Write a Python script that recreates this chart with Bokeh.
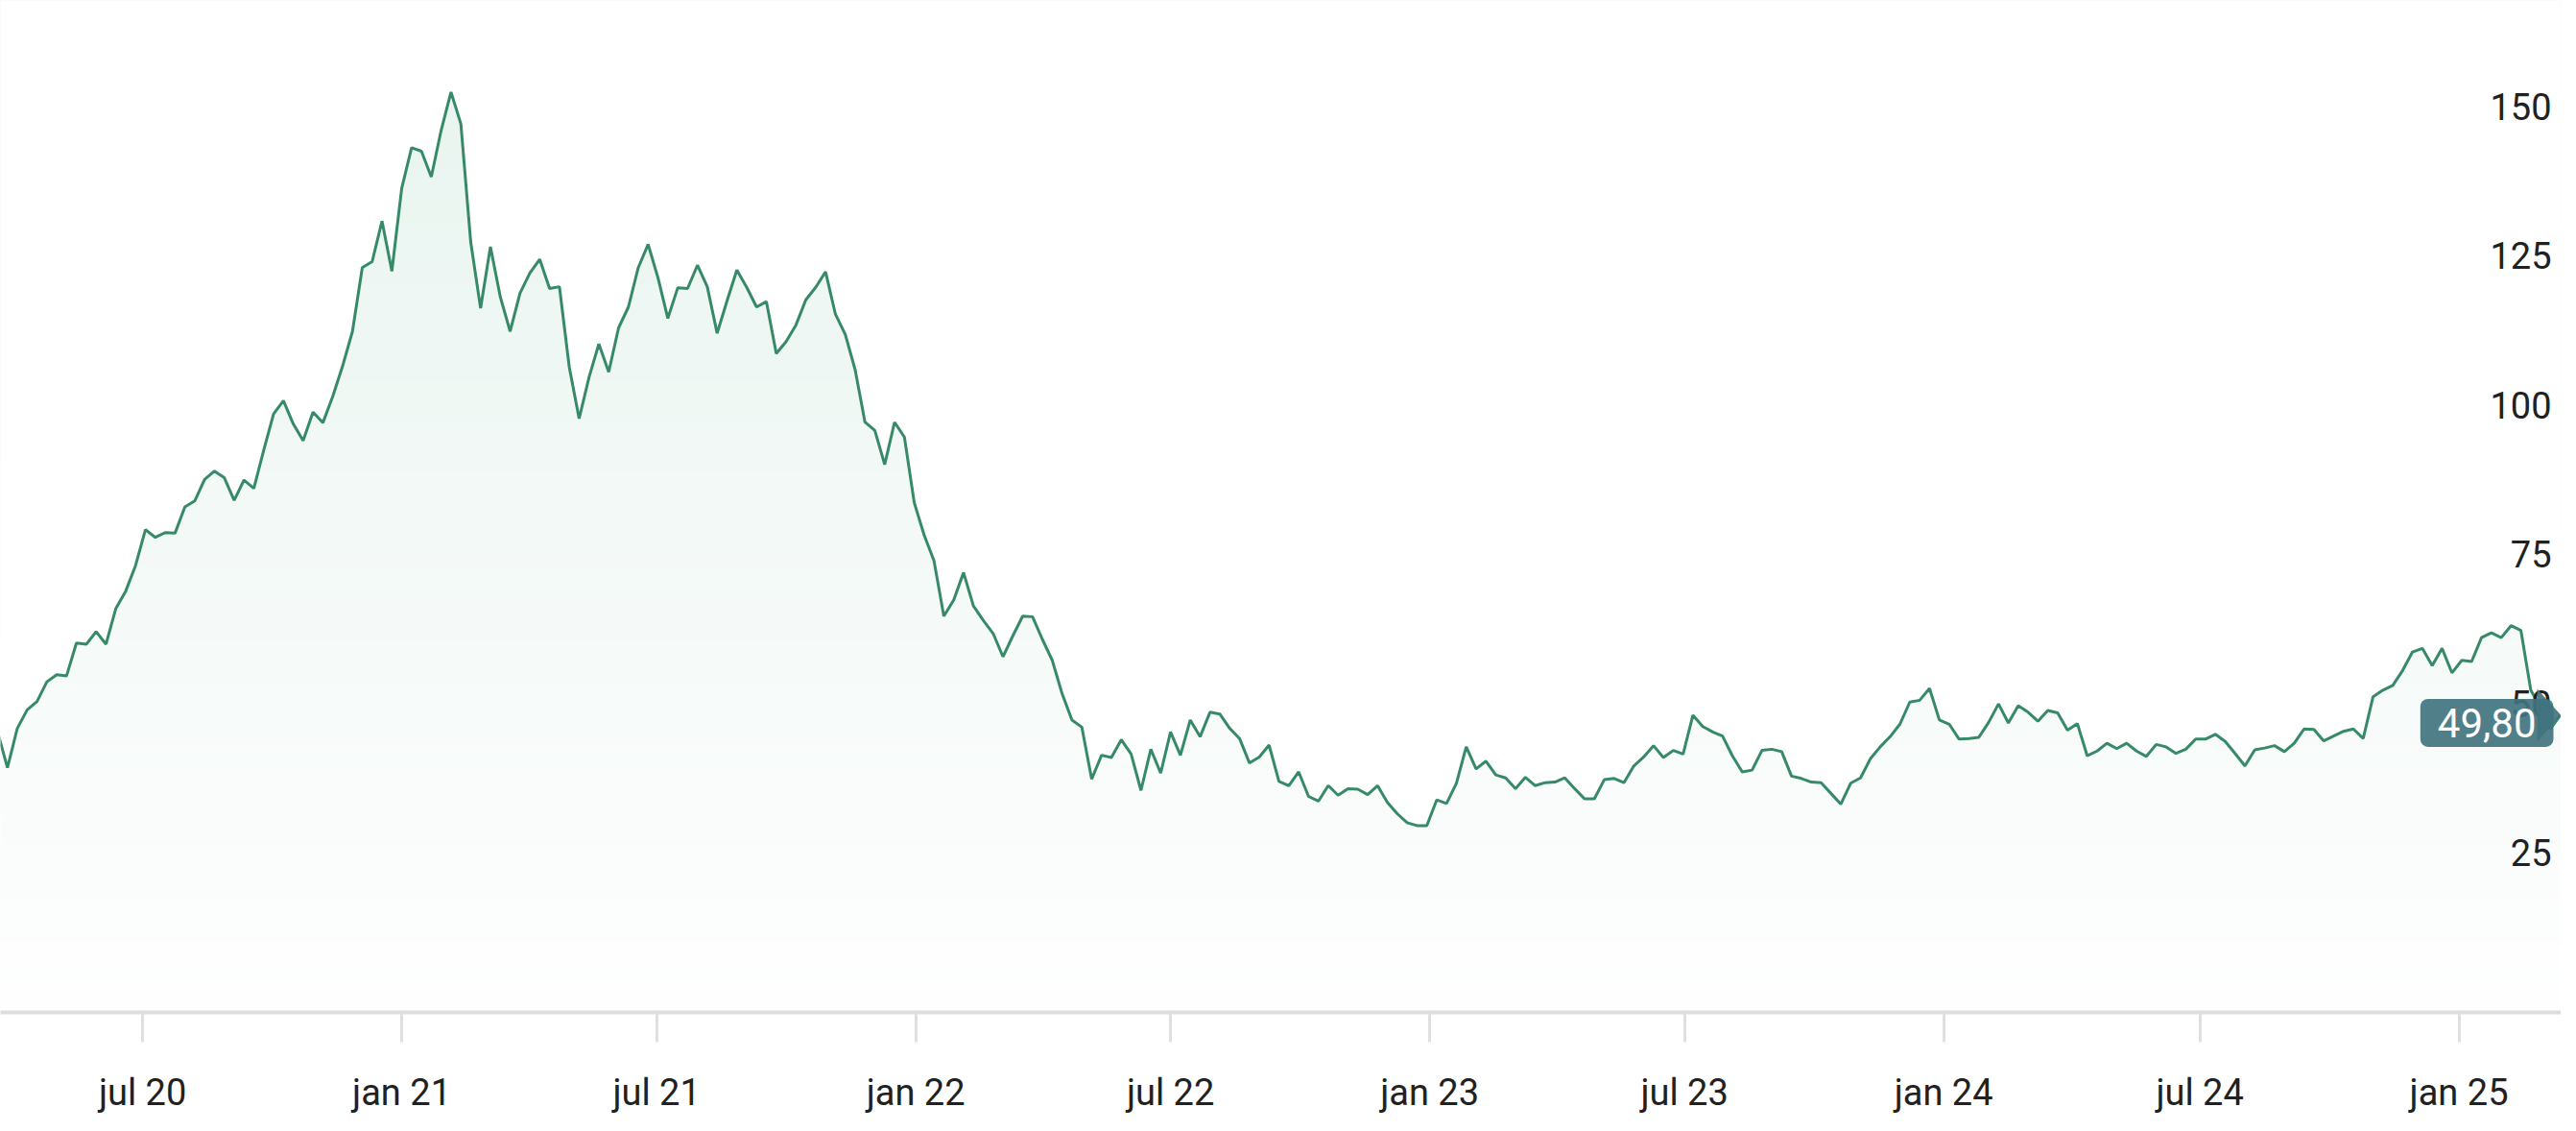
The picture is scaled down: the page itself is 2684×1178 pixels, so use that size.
import numpy as np
import pandas as pd
from bokeh.plotting import figure
from bokeh.models import Range1d, FixedTicker, Label
from bokeh.core.properties import value
from bokeh.embed import file_html
from bokeh.resources import INLINE

# ---- data (weekly closes) ----
start_date = "2020-03-20"
values = [
    47.0,
    41.0, 47.6, 50.7, 52.1, 55.4, 56.6, 56.4, 61.9, 61.7, 63.8,
    61.7, 67.7, 70.6, 74.9, 80.9, 79.6, 80.4, 80.3, 84.7, 85.7,
    89.3, 90.7, 89.6, 85.8, 89.2, 87.8, 94.2, 100.3, 102.5, 98.6,
    95.8, 100.6, 98.8, 103.2, 108.3, 114.1, 124.8, 125.8, 132.6, 124.2,
    138.1, 144.9, 144.3, 140.0, 147.8, 154.2, 148.9, 129.1, 118.0, 128.3,
    119.9, 114.1, 120.5, 123.9, 126.2, 121.3, 121.6, 108.1, 99.5, 106.4,
    112.0, 107.3, 114.7, 118.2, 124.8, 128.7, 123.1, 116.3, 121.4, 121.3,
    125.2, 121.6, 113.8, 119.2, 124.4, 121.5, 118.2, 119.1, 110.4, 112.4,
    115.2, 119.4, 121.5, 124.1, 117.0, 113.6, 107.7, 98.9, 97.5, 91.8,
    98.9, 96.4, 85.4, 80.0, 75.7, 66.4, 69.1, 73.7, 68.1, 65.7,
    63.5, 59.6, 63.1, 66.4, 66.3, 62.5, 59.0, 53.4, 49.0, 47.8,
    39.1, 43.1, 42.7, 45.7, 43.3, 37.2, 44.1, 40.1, 47.0, 43.1,
    49.0, 46.2, 50.3, 50.0, 47.6, 45.9, 41.8, 42.8, 44.8, 38.7,
    38.0, 40.3, 36.2, 35.4, 38.0, 36.4, 37.5, 37.4, 36.5, 38.0,
    35.2, 33.3, 31.8, 31.3, 31.3, 35.6, 35.0, 38.4, 44.5, 40.8,
    42.1, 39.8, 39.3, 37.5, 39.4, 38.0, 38.5, 38.6, 39.3, 37.5,
    35.8, 35.8, 39.0, 39.2, 38.5, 41.3, 42.8, 44.7, 42.7, 43.9,
    43.3, 49.8, 47.9, 47.0, 46.3, 43.0, 40.3, 40.6, 43.9, 44.1,
    43.7, 39.6, 39.2, 38.6, 38.5, 36.7, 34.9, 38.4, 39.3, 42.5,
    44.5, 46.2, 48.3, 52.0, 52.3, 54.3, 49.0, 48.3, 45.8, 45.9,
    46.1, 48.6, 51.7, 48.5, 51.4, 50.3, 48.8, 50.6, 50.2, 47.3,
    48.4, 43.0, 43.8, 45.1, 44.2, 45.1, 43.8, 42.9, 44.9, 44.5,
    43.4, 44.1, 45.8, 45.8, 46.6, 45.4, 43.4, 41.3, 44.0, 44.3,
    44.7, 43.7, 45.1, 47.5, 47.4, 45.5, 46.3, 47.1, 47.5, 45.9,
    52.9, 54.0, 54.8, 57.3, 60.4, 61.0, 58.1, 61.0, 56.9, 59.0,
    58.8, 62.8, 63.6, 62.8, 64.8, 64.0, 54.0, 51.0, 47.5, 49.8,
]
y_ticks = [25, 50, 75, 100, 125, 150]
y_tick_labels = ["25", "50", "75", "100", "125", "150"]
x_tick_dates = ["2020-07-01", "2021-01-01", "2021-07-01", "2022-01-01", "2022-07-01",
                "2023-01-01", "2023-07-01", "2024-01-01", "2024-07-01", "2025-01-01"]
x_tick_labels = ["jul 20", "jan 21", "jul 21", "jan 22", "jul 22",
                 "jan 23", "jul 23", "jan 24", "jul 24", "jan 25"]

# ---- helpers ----
epoch = pd.Timestamp("1970-01-01")
def to_ms(ts):
    return (pd.Timestamp(ts) - epoch) / pd.Timedelta(milliseconds=1)

dates = pd.date_range(start_date, periods=len(values), freq="7D")
x_ms = np.array([to_ms(d) for d in dates])
vals = np.array(values)

W, H = 2668, 1162
FRAME_H = 1054
x_start = to_ms(dates[1] - pd.Timedelta(days=4.95))
x_end = to_ms(dates[-1] + pd.Timedelta(days=0.55))
y_top = 169.56

p = figure(width=W, height=H, x_axis_type="datetime",
           x_range=Range1d(x_start, x_end), y_range=Range1d(0, y_top),
           output_backend="svg", toolbar_location=None, y_axis_location=None,
           min_border_left=0, min_border_right=0, min_border_top=0,
           min_border_bottom=H - FRAME_H,
           background_fill_color="white", border_fill_color="white",
           outline_line_color=None)
p.grid.visible = False

# gradient fill under the line: gradient image masked by white above the line
levels = np.linspace(0, y_top, 256)
f = 0.002 + 0.00066 * levels
img = np.empty((256, 4), dtype=np.uint32)
view = img.view(dtype=np.uint8).reshape((256, 4, 4))
view[:, :, 0] = (255 - f * (255 - 46))[:, None]
view[:, :, 1] = (255 - f * (255 - 158))[:, None]
view[:, :, 2] = (255 - f * (255 - 110))[:, None]
view[:, :, 3] = 255
p.image_rgba(image=[img], x=x_ms[0], y=0, dw=x_ms[-1] - x_ms[0], dh=y_top)
p.varea(x=x_ms, y1=vals, y2=y_top, fill_color="white")

p.line(x_ms, vals, line_color="#378a68", line_width=3)

# y labels (drawn inside the plot, right aligned, above their tick level)
p.text(x=[x_end] * len(y_ticks), y=y_ticks, text=y_tick_labels,
       text_font=value("Roboto"), text_font_size="38px", text_color="#212121",
       text_align="right", text_baseline="middle", x_offset=-10, y_offset=-11)

# x axis
ax = p.xaxis[0]
tick_ms = [float(to_ms(d)) for d in x_tick_dates]
ax.ticker = FixedTicker(ticks=tick_ms)
ax.major_label_overrides = {t: l for t, l in zip(tick_ms, x_tick_labels)}
ax.axis_line_color = "#dddddd"
ax.axis_line_width = 4
ax.major_tick_line_color = "#e0e0e0"
ax.major_tick_line_width = 3
ax.major_tick_in = 0
ax.major_tick_out = 31
ax.minor_tick_line_color = None
ax.major_label_text_font = "Roboto"
ax.major_label_text_font_size = "38px"
ax.major_label_text_color = "#212121"
ax.major_label_standoff = 30

# last price pointer
last = values[-1]
px_ms = (x_end - x_start) / W
upp = y_top / FRAME_H
arrow_w = 25
half_h = 27.5
label = Label(x=x_end, y=last, text=f"{last:.2f}".replace(".", ","),
              text_align="right", text_baseline="middle",
              x_offset=-8, y_offset=-8,
              text_font="Roboto", text_font_size="42px", text_color="white",
              background_fill_color="#41737f", background_fill_alpha=0.92,
              border_radius=8,
              padding=dict(left=18, right=18, top=10, bottom=10))
p.add_layout(label)
p.patch(x=[x_end - arrow_w * px_ms, x_end, x_end - arrow_w * px_ms],
        y=[last + half_h * upp, last, last - half_h * upp],
        fill_color="#41737f", fill_alpha=0.92, line_color=None)

open("out.html", "w").write(file_html(p, INLINE))
